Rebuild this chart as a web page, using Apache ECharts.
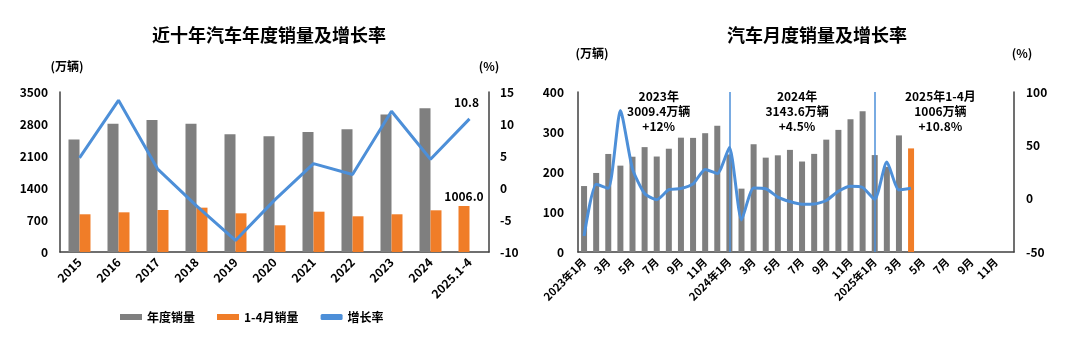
<!DOCTYPE html>
<html><head><meta charset="utf-8">
<script src="https://cdn.jsdelivr.net/npm/echarts@6/dist/echarts.min.js"></script>
<style>html,body{margin:0;padding:0;background:#fff;}#c{width:1080px;height:350px;}</style>
</head><body><div id="c"></div>
<script>
// ---- Left chart data ----
const years = ['2015','2016','2017','2018','2019','2020','2021','2022','2023','2024','2025.1-4'];
// annual totals; the last column is the 2025 Jan-Apr year-to-date total (drawn in the first slot, orange)
const annualSales = [2459.8, 2802.8, 2887.9, 2808.1, 2576.9, 2531.1, 2627.5, 2686.4, 3009.4, 3143.6, 1006.0];
const janAprSales = [825, 868, 919, 970, 846, 584, 882, 781, 825, 912, null];
const annualGrowth = [4.7, 13.7, 3.0, -2.8, -8.2, -1.9, 3.8, 2.1, 12.0, 4.5, 10.8];

// ---- Right chart data ----
const months = [
  '2023年1月','2月','3月','4月','5月','6月','7月','8月','9月','10月','11月','12月',
  '2024年1月','2月','3月','4月','5月','6月','7月','8月','9月','10月','11月','12月',
  '2025年1月','2月','3月','4月','5月','6月','7月','8月','9月','10月','11月','12月'];
const monthlySales = [
  164.9, 197.6, 245.1, 215.9, 238.2, 262.2, 238.7, 258.2, 285.8, 285.3, 297.0, 315.6,
  243.9, 158.4, 269.4, 235.9, 241.7, 255.3, 226.2, 245.3, 280.9, 305.3, 331.6, 351.6,
  242.3, 212.9, 291.5, 259.0, null, null, null, null, null, null, null, null];
const monthlyGrowth = [
  -35.0, 13.5, 9.7, 82.7, 27.9, 4.8, -1.0, 8.4, 9.5, 13.8, 27.4, 23.5,
  47.9, -19.9, 9.9, 9.3, 1.5, -2.7, -5.2, -5.0, -1.7, 7.0, 11.7, 10.5,
  -0.6, 34.4, 8.2, 9.8, null, null, null, null, null, null, null, null];
const currentMonthIndex = 27;
const yearMarks = ['2024年1月', '2025年1月'];
const yearNotes = [
  {idx: 6, text: '2023年\n3009.4万辆\n+12%'},
  {idx: 18, text: '2024年\n3143.6万辆\n+4.5%'},
  {idx: 30, text: '2025年1-4月\n1006万辆\n+10.8%'}
];

const GRAY = '#7f7f7f', ORANGE = '#f07d28', BLUE = '#4d8fd8', AXIS = '#404040';
const FONT = '"Noto Sans CJK SC", "Noto Sans", sans-serif';
const bold12 = {color: '#000', fontWeight: 'bold', fontSize: 12, fontFamily: FONT};
const plain = v => String(v);

const chart = echarts.init(document.getElementById('c'), null, {renderer: 'canvas'});

const lastYear = years.length - 1;
const annualBarData = annualSales.map((v, i) => i === lastYear ?
  {value: v, itemStyle: {color: ORANGE},
   label: {show: true, position: 'top', distance: 4, fontWeight: 'bold', fontSize: 12, color: '#000',
           formatter: p => Number(p.value).toFixed(1)}} : v);
const monthlyBarData = monthlySales.map((v, i) => i === currentMonthIndex ? {value: v, itemStyle: {color: ORANGE}} : v);
const noteOffsets = [[2, 0], [-5, 0], [-7, 0]];

const axisLineStyle = {show: true, lineStyle: {color: AXIS, width: 1.5}};

chart.setOption({
  animation: false,
  textStyle: {fontFamily: FONT},
  title: [
    {text: '近十年汽车年度销量及增长率', left: 264, top: 21, textAlign: 'center',
     textStyle: {fontSize: 18, fontWeight: 'bold', color: '#000', fontFamily: FONT}},
    {text: '汽车月度销量及增长率', left: 812, top: 21, textAlign: 'center',
     textStyle: {fontSize: 18, fontWeight: 'bold', color: '#000', fontFamily: FONT}}
  ],
  legend: {
    left: 115, top: 306, itemWidth: 22, itemHeight: 6, itemGap: 22,
    textStyle: {color: '#000', fontWeight: 'bold', fontSize: 12, fontFamily: FONT},
    data: [
      {name: '年度销量', icon: 'rect'},
      {name: '1-4月销量', icon: 'rect', itemStyle: {color: ORANGE}},
      {name: '增长率', icon: 'roundRect', itemStyle: {color: BLUE}}
    ]
  },
  grid: [
    {left: 60, right: 591, top: 92, bottom: 98},
    {left: 578, right: 66, top: 92, bottom: 98}
  ],
  xAxis: [
    {type: 'category', gridIndex: 0, data: years,
     axisLine: axisLineStyle, axisTick: {show: false},
     axisLabel: Object.assign({rotate: 45, margin: 8, interval: 0}, bold12)},
    {type: 'category', gridIndex: 1, data: months,
     axisLine: axisLineStyle, axisTick: {show: false},
     axisLabel: Object.assign({rotate: 45, margin: 8, interval: 1}, bold12, {fontSize: 11})}
  ],
  yAxis: [
    {type: 'value', gridIndex: 0, min: 0, max: 3500, interval: 700,
     name: '(万辆)', nameGap: 20, nameTextStyle: Object.assign({padding: [0, 0, 0, 14]}, bold12),
     axisLine: axisLineStyle, axisTick: {show: false}, splitLine: {show: false},
     axisLabel: Object.assign({margin: 12, formatter: plain}, bold12)},
    {type: 'value', gridIndex: 0, position: 'right', min: -10, max: 15, interval: 5,
     name: '(%)', nameGap: 20, nameTextStyle: bold12,
     axisLine: axisLineStyle, axisTick: {show: false}, splitLine: {show: false},
     axisLabel: Object.assign({margin: 11, formatter: plain}, bold12)},
    {type: 'value', gridIndex: 1, min: 0, max: 400, interval: 100,
     name: '(万辆)', nameGap: 33, nameTextStyle: Object.assign({padding: [0, 0, 0, 28]}, bold12),
     axisLine: axisLineStyle, axisTick: {show: false}, splitLine: {show: false},
     axisLabel: Object.assign({margin: 14, formatter: plain}, bold12)},
    {type: 'value', gridIndex: 1, position: 'right', min: -50, max: 100, interval: 50,
     name: '(%)', nameGap: 33, nameTextStyle: Object.assign({padding: [0, 0, 0, 16]}, bold12),
     axisLine: axisLineStyle, axisTick: {show: false}, splitLine: {show: false},
     axisLabel: Object.assign({margin: 12, formatter: plain}, bold12)}
  ],
  series: [
    {name: '年度销量', type: 'bar', xAxisIndex: 0, yAxisIndex: 0, data: annualBarData,
     barWidth: 11, barGap: '0%', itemStyle: {color: GRAY}},
    {name: '1-4月销量', type: 'bar', xAxisIndex: 0, yAxisIndex: 0, data: janAprSales,
     barWidth: 11, itemStyle: {color: ORANGE}},
    {name: '增长率', type: 'line', xAxisIndex: 0, yAxisIndex: 1, data: annualGrowth,
     symbol: 'circle', symbolSize: 0, showSymbol: true, lineStyle: {color: BLUE, width: 3}, itemStyle: {color: BLUE},
     label: {show: true, position: 'top', distance: 10, offset: [-3, 0], fontWeight: 'bold', fontSize: 12, color: '#000',
       formatter: p => p.dataIndex === annualGrowth.length - 1 ? p.value.toFixed(1) : ''}},
    {name: '月度销量', type: 'bar', xAxisIndex: 1, yAxisIndex: 2, data: monthlyBarData,
     barWidth: 6, itemStyle: {color: GRAY},
     markLine: {silent: true, symbol: 'none', label: {show: false},
       lineStyle: {color: BLUE, width: 1.5, type: 'solid'},
       data: yearMarks.map(m => ({xAxis: m}))}},
    {name: '月度增长率', type: 'line', xAxisIndex: 1, yAxisIndex: 3, data: monthlyGrowth,
     smooth: 0.2, symbol: 'none', lineStyle: {color: BLUE, width: 3}, itemStyle: {color: BLUE},
     markPoint: {symbol: 'rect', symbolSize: 0, silent: true,
       label: {show: true, color: '#000', fontWeight: 'bold', fontSize: 12, lineHeight: 15, fontFamily: FONT,
         formatter: p => p.name},
       data: yearNotes.map((n, i) => ({name: n.text, coord: [n.idx, 0], y: 111,
         label: {offset: noteOffsets[i]}}))}}
  ]
});
</script></body></html>
